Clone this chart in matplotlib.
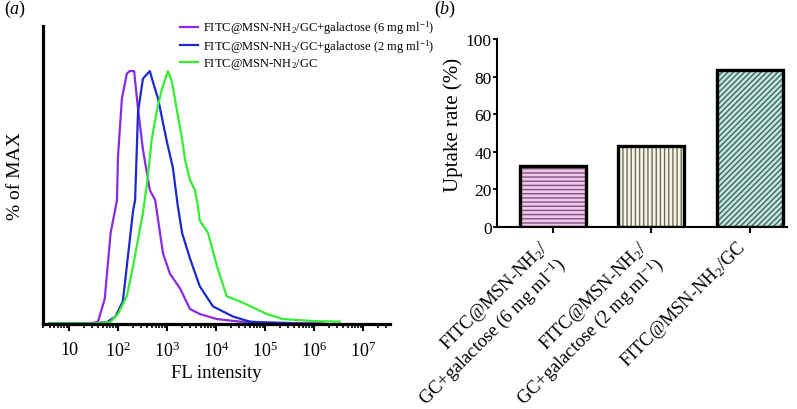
import numpy as np
import matplotlib.pyplot as plt
from matplotlib.transforms import ScaledTranslation

plt.rcParams['font.family'] = 'Liberation Serif'
plt.rcParams['mathtext.fontset'] = 'custom'
plt.rcParams['mathtext.rm'] = 'Liberation Serif'
plt.rcParams['mathtext.it'] = 'Liberation Serif:italic'
plt.rcParams['hatch.linewidth'] = 1.0

# (a) flow cytometry histograms: log10(FL intensity) and % of max
labels_a = ["FITC@MSN-NH$_2$/GC+galactose (6 mg ml$^{-1}$)",
            "FITC@MSN-NH$_2$/GC+galactose (2 mg ml$^{-1}$)",
            "FITC@MSN-NH$_2$/GC"]
colors_a = ['#8a2be2', '#1a2ad0', '#33ee33']

logx_6mg = [0.6, 1.4, 1.59, 1.73, 1.85, 1.98, 2.0, 2.08, 2.18, 2.24, 2.33, 2.41, 2.51, 2.65,
            2.76, 2.92, 3.06, 3.27, 3.47, 3.67, 4.02, 4.49, 5.0, 5.71, 6.2]
pct_6mg = [0.3, 0.3, 0.8, 10, 36, 49, 66, 89, 99, 100, 100, 85, 69, 53,
           49, 28, 20, 14, 6, 4, 2, 1, 0.6, 0.4, 0.3]

logx_2mg = [0.6, 1.5, 1.78, 1.95, 2.10, 2.31, 2.35, 2.41, 2.51, 2.65, 2.71, 2.82, 3.0, 3.12,
            3.22, 3.31, 3.47, 3.67, 3.94, 4.35, 4.69, 5.04, 5.5]
pct_2mg = [0.3, 0.3, 0.8, 3, 9, 45, 49, 84, 97, 100, 96, 89, 72, 62,
           47, 36, 26, 15, 7, 3, 1, 0.6, 0.4]

logx_gc = [0.6, 1.5, 1.84, 2.0, 2.18, 2.31, 2.51, 2.59, 2.69, 2.80, 2.90, 3.02, 3.10, 3.20,
           3.31, 3.37, 3.47, 3.57, 3.63, 3.67, 3.84, 4.02, 4.22, 4.49, 5.04, 5.37, 6.0, 6.53]
pct_gc = [0.3, 0.3, 0.8, 4, 11, 23, 44, 55, 73, 85, 93, 100, 96, 85,
          73, 65, 57, 53, 47, 41, 36, 23, 11, 9, 4, 2, 1.2, 1]

xticks_a = [10, 1e2, 1e3, 1e4, 1e5, 1e6, 1e7]
xticklabels_a = ['10', '10$^{2}$', '10$^{3}$', '10$^{4}$', '10$^{5}$', '10$^{6}$', '10$^{7}$']

# (b) uptake rate
labels_b = ["FITC@MSN-NH$_2$/\nGC+galactose (6 mg ml$^{-1}$)",
            "FITC@MSN-NH$_2$/\nGC+galactose (2 mg ml$^{-1}$)",
            "FITC@MSN-NH$_2$/GC"]
uptake = [32.5, 43, 83.5]
fills_b = ['#f2c4ee', '#f6f6e2', '#c6e6de']
hatchcol_b = ['#7a5a78', '#6c6c5e', '#3a6660']
hatches_b = ['----', '||||', '//////']

fig = plt.figure(figsize=(7.97, 4.1), dpi=100)

# ---- panel (a)
ax1 = fig.add_axes([0.054, 0.207, 0.435, 0.727])
series = [(logx_6mg, pct_6mg), (logx_2mg, pct_2mg), (logx_gc, pct_gc)]
for (lx, p), c, lab in zip(series, colors_a, labels_a):
    ax1.plot(10 ** np.array(lx), p, color=c, lw=1.6, label=lab)
ax1.set_xscale('log')
ax1.set_xlim(10 ** 0.47, 10 ** 7.55)
ax1.set_ylim(0, 117.8)
ax1.spines['top'].set_visible(False)
ax1.spines['right'].set_visible(False)
ax1.spines['left'].set_linewidth(2.3)
ax1.spines['bottom'].set_linewidth(2.3)
ax1.set_yticks([])
ax1.set_xticks(xticks_a)
ax1.set_xticklabels(xticklabels_a, fontsize=13)
ax1.tick_params(axis='x', which='major', direction='out', length=5, width=1.5, pad=7)
ax1.tick_params(axis='x', which='minor', direction='out', length=3, width=1.2)
ax1.set_xlabel('FL intensity', fontsize=13.5, labelpad=3)
ax1.set_ylabel('% of MAX', fontsize=14, labelpad=14)
ax1.legend(loc='upper left', bbox_to_anchor=(0.226, 0.952), bbox_transform=fig.transFigure,
           frameon=False, fontsize=9, handlelength=1.4, handletextpad=0.45,
           labelspacing=0.08, borderpad=0, borderaxespad=0)
fig.text(0.005, 0.965, '($a$)', fontsize=13)

# ---- panel (b)
ax2 = fig.add_axes([0.624, 0.444, 0.364, 0.458])
pos = np.arange(len(uptake))
for i in range(len(uptake)):
    ax2.bar(pos[i], uptake[i], width=0.67, color=fills_b[i], edgecolor=hatchcol_b[i],
            hatch=hatches_b[i], linewidth=0, zorder=2)
ax2.bar(pos, uptake, width=0.67, fill=False, edgecolor='black', linewidth=2.4, zorder=3)
ax2.set_xlim(-0.56, 2.38)
ax2.set_ylim(0, 100)
ax2.spines['top'].set_visible(False)
ax2.spines['right'].set_visible(False)
ax2.spines['left'].set_linewidth(1.5)
ax2.spines['bottom'].set_linewidth(1.5)
ax2.set_yticks([0, 20, 40, 60, 80, 100])
ax2.tick_params(axis='y', direction='out', length=3, width=1.3, pad=1, labelsize=12.5)
ax2.set_xticks(pos)
ax2.set_xticklabels(labels_b, rotation=45, ha='right', va='top', rotation_mode='anchor',
                    fontsize=13.3, multialignment='right', linespacing=1.1)
ax2.tick_params(axis='x', direction='out', length=4, width=1.5, pad=3)
shift = ScaledTranslation(-10 / 72, 0, fig.dpi_scale_trans)
for t in ax2.get_xticklabels():
    t.set_transform(t.get_transform() + shift)
ax2.set_ylabel('Uptake rate (%)', fontsize=15)
ax2.yaxis.set_label_coords(-0.117, 0.548)
fig.text(0.545, 0.965, '($b$)', fontsize=13)

fig.savefig('out.png', dpi=100)
